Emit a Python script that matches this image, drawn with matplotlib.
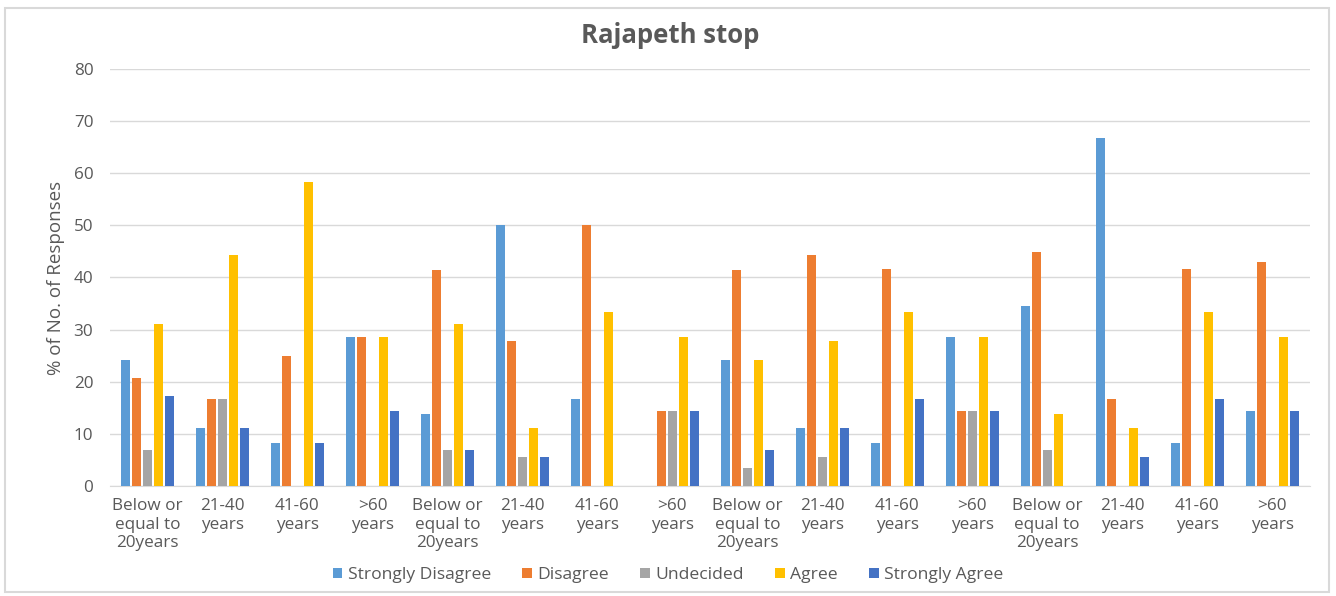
import numpy as np
import matplotlib
matplotlib.use("Agg")
import matplotlib.pyplot as plt
from matplotlib.patches import Rectangle

plt.rcParams['font.family'] = ['Open Sans', 'DejaVu Sans']

# ------- Dane -------
groups = ["Below or\nequal to\n20years", "21-40\nyears", "41-60\nyears", ">60\nyears"] * 4
series = ["Strongly Disagree", "Disagree", "Undecided", "Agree", "Strongly Agree"]
colors = ["#5B9BD5", "#ED7D31", "#A5A5A5", "#FFC000", "#4472C4"]

strongly_disagree = [24.1, 11.1, 8.3, 28.6, 13.8, 50.0, 16.7, 0.0, 24.1, 11.1, 8.3, 28.6, 34.5, 66.7, 8.3, 14.3]
disagree = [20.7, 16.7, 25.0, 28.6, 41.4, 27.8, 50.0, 14.3, 41.4, 44.4, 41.7, 14.3, 44.8, 16.7, 41.7, 42.9]
undecided = [6.9, 16.7, 0.0, 0.0, 6.9, 5.6, 0.0, 14.3, 3.4, 5.6, 0.0, 14.3, 6.9, 0.0, 0.0, 0.0]
agree = [31.0, 44.4, 58.3, 28.6, 31.0, 11.1, 33.3, 28.6, 24.1, 27.8, 33.3, 28.6, 13.8, 11.1, 33.3, 28.6]
strongly_agree = [17.2, 11.1, 8.3, 14.3, 6.9, 5.6, 0.0, 14.3, 6.9, 11.1, 16.7, 14.3, 0.0, 5.6, 16.7, 14.3]

values = [strongly_disagree, disagree, undecided, agree, strongly_agree]

# ------- Wykres -------
fig = plt.figure(figsize=(13.36, 5.96), dpi=100)
fig.patches.append(Rectangle((0.004, 0.007), 0.991, 0.98, transform=fig.transFigure,
                             fill=False, edgecolor="#D9D9D9", linewidth=1.5))
ax = fig.add_axes([0.0823, 0.1846, 0.898, 0.6996])

x = np.arange(len(groups))
step = 0.147
width = 0.12
for i, (name, vals, c) in enumerate(zip(series, values, colors)):
    ax.bar(x + (i - 2) * step, vals, width=width, color=c, label=name, zorder=3)

ax.set_xlim(-0.5, len(groups) - 0.5)
ax.set_ylim(0, 80)
ax.set_yticks(range(0, 81, 10))
ax.set_xticks(x)
ax.set_xticklabels(groups, fontsize=12.3, color="#595959", linespacing=1.2)
ax.tick_params(axis='both', length=0, labelcolor="#595959")
ax.tick_params(axis='y', pad=12, labelsize=12.3)
ax.tick_params(axis='x', pad=9)
ax.grid(axis='y', color="#D9D9D9", linewidth=1, zorder=0)
for s in ["top", "right", "left"]:
    ax.spines[s].set_visible(False)
ax.spines["bottom"].set_color("#D9D9D9")

ax.set_ylabel("% of No. of Responses", fontsize=13.5, color="#595959", labelpad=6)
fig.text(0.5015, 0.94, "Rajapeth stop", ha='center', va='center', fontsize=18.5,
         fontweight='bold', color="#595959")

leg = fig.legend(loc='center', bbox_to_anchor=(0.5, 0.035), ncol=5, frameon=False,
                 fontsize=12.6, handlelength=0.55, handleheight=0.55, handletextpad=0.3,
                 columnspacing=1.8)
for t in leg.get_texts():
    t.set_color("#595959")

fig.savefig("out.png", dpi=100)
